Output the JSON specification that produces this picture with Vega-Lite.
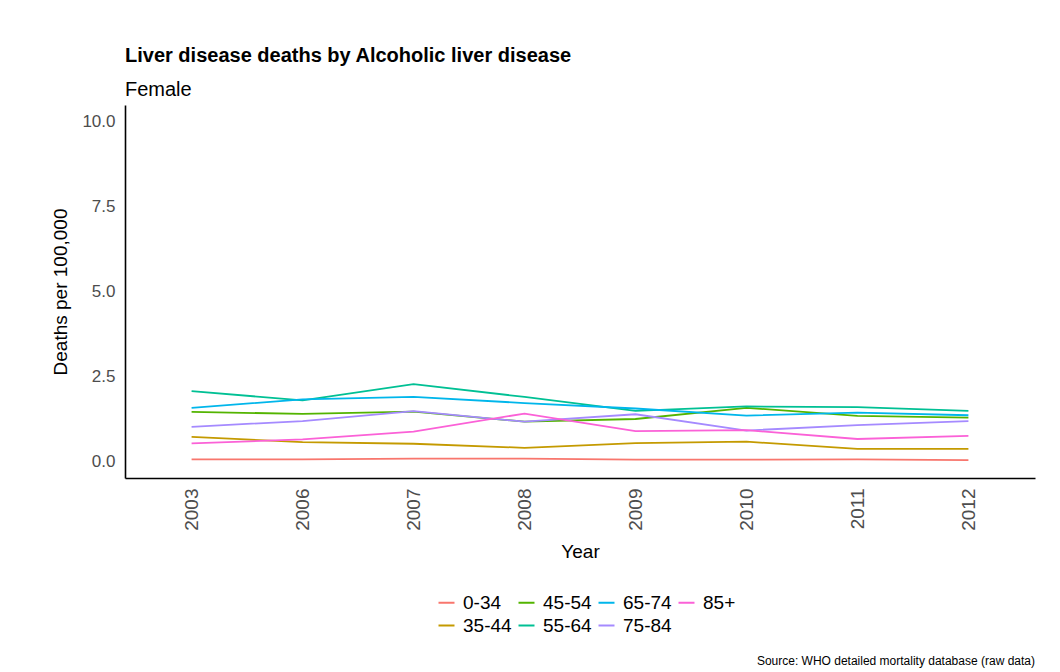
{
  "$schema": "https://vega.github.io/schema/vega-lite/v6.json",
  "autosize": {"type": "none"},
  "width": 910,
  "height": 373,
  "padding": {"left": 125, "top": 105, "right": 25, "bottom": 194},
  "background": "white",
  "config": {
    "font": "Liberation Sans",
    "view": {"stroke": null},
    "axis": {"grid": false, "ticks": false, "domainColor": "black", "domainWidth": 1.6, "labelColor": "#4D4D4D", "labelFontSize": 17, "titleFontSize": 19, "titleFontWeight": "normal", "titleColor": "black"}
  },
  "title": {
    "text": "Liver disease deaths by Alcoholic liver disease",
    "subtitle": "Female",
    "anchor": "start",
    "frame": "group",
    "fontSize": 20,
    "fontWeight": "bold",
    "color": "black",
    "subtitleFontSize": 20,
    "subtitleColor": "black",
    "subtitlePadding": 14,
    "offset": 5
  },
  "data": {
    "values": [
      {"year": "2003", "age": "0-34", "deaths": 0.05},
      {"year": "2006", "age": "0-34", "deaths": 0.05},
      {"year": "2007", "age": "0-34", "deaths": 0.07},
      {"year": "2008", "age": "0-34", "deaths": 0.07},
      {"year": "2009", "age": "0-34", "deaths": 0.04},
      {"year": "2010", "age": "0-34", "deaths": 0.04},
      {"year": "2011", "age": "0-34", "deaths": 0.05},
      {"year": "2012", "age": "0-34", "deaths": 0.03},
      {"year": "2003", "age": "35-44", "deaths": 0.71},
      {"year": "2006", "age": "35-44", "deaths": 0.56},
      {"year": "2007", "age": "35-44", "deaths": 0.51},
      {"year": "2008", "age": "35-44", "deaths": 0.39},
      {"year": "2009", "age": "35-44", "deaths": 0.53},
      {"year": "2010", "age": "35-44", "deaths": 0.57},
      {"year": "2011", "age": "35-44", "deaths": 0.36},
      {"year": "2012", "age": "35-44", "deaths": 0.36},
      {"year": "2003", "age": "45-54", "deaths": 1.45},
      {"year": "2006", "age": "45-54", "deaths": 1.39},
      {"year": "2007", "age": "45-54", "deaths": 1.46},
      {"year": "2008", "age": "45-54", "deaths": 1.16},
      {"year": "2009", "age": "45-54", "deaths": 1.24},
      {"year": "2010", "age": "45-54", "deaths": 1.57},
      {"year": "2011", "age": "45-54", "deaths": 1.33},
      {"year": "2012", "age": "45-54", "deaths": 1.28},
      {"year": "2003", "age": "55-64", "deaths": 2.06},
      {"year": "2006", "age": "55-64", "deaths": 1.79},
      {"year": "2007", "age": "55-64", "deaths": 2.27},
      {"year": "2008", "age": "55-64", "deaths": 1.89},
      {"year": "2009", "age": "55-64", "deaths": 1.48},
      {"year": "2010", "age": "55-64", "deaths": 1.61},
      {"year": "2011", "age": "55-64", "deaths": 1.59},
      {"year": "2012", "age": "55-64", "deaths": 1.48},
      {"year": "2003", "age": "65-74", "deaths": 1.57},
      {"year": "2006", "age": "65-74", "deaths": 1.82},
      {"year": "2007", "age": "65-74", "deaths": 1.89},
      {"year": "2008", "age": "65-74", "deaths": 1.71},
      {"year": "2009", "age": "65-74", "deaths": 1.55},
      {"year": "2010", "age": "65-74", "deaths": 1.34},
      {"year": "2011", "age": "65-74", "deaths": 1.43},
      {"year": "2012", "age": "65-74", "deaths": 1.35},
      {"year": "2003", "age": "75-84", "deaths": 1.01},
      {"year": "2006", "age": "75-84", "deaths": 1.18},
      {"year": "2007", "age": "75-84", "deaths": 1.47},
      {"year": "2008", "age": "75-84", "deaths": 1.16},
      {"year": "2009", "age": "75-84", "deaths": 1.38},
      {"year": "2010", "age": "75-84", "deaths": 0.90},
      {"year": "2011", "age": "75-84", "deaths": 1.06},
      {"year": "2012", "age": "75-84", "deaths": 1.18},
      {"year": "2003", "age": "85+", "deaths": 0.52},
      {"year": "2006", "age": "85+", "deaths": 0.64},
      {"year": "2007", "age": "85+", "deaths": 0.87},
      {"year": "2008", "age": "85+", "deaths": 1.40},
      {"year": "2009", "age": "85+", "deaths": 0.88},
      {"year": "2010", "age": "85+", "deaths": 0.91},
      {"year": "2011", "age": "85+", "deaths": 0.65},
      {"year": "2012", "age": "85+", "deaths": 0.74}
    ]
  },
  "layer": [
    {
      "mark": {"type": "line", "strokeWidth": 1.8},
      "encoding": {
        "x": {
          "field": "year", "type": "ordinal",
          "scale": {"type": "point", "padding": 0.6},
          "axis": {"title": "Year", "labelAngle": 270, "labelPadding": 10, "labelFontSize": 19, "titlePadding": 12}
        },
        "y": {
          "field": "deaths", "type": "quantitative",
          "scale": {"domain": [-0.5, 10.5], "nice": false, "zero": false},
          "axis": {"title": "Deaths per 100,000", "values": [0, 2.5, 5, 7.5, 10], "format": ".1f", "labelPadding": 10, "titlePadding": 11}
        },
        "color": {
          "field": "age", "type": "nominal",
          "scale": {
            "domain": ["0-34", "45-54", "65-74", "85+", "35-44", "55-64", "75-84"],
            "range": ["#F8766D", "#53B400", "#00B6EB", "#FB61D7", "#C49A00", "#00C094", "#A58AFF"]
          },
          "legend": {
            "title": null,
            "orient": "none",
            "legendX": 312,
            "legendY": 488,
            "direction": "horizontal",
            "columns": 4,
            "symbolType": "stroke",
            "symbolSize": 256,
            "symbolStrokeWidth": 2,
            "labelFontSize": 19,
            "labelColor": "black",
            "labelOffset": 7,
            "columnPadding": 2,
            "rowPadding": 3
          }
        }
      }
    },
    {
      "data": {"values": [{"caption": "Source: WHO detailed mortality database (raw data)"}]},
      "mark": {"type": "text", "align": "right", "baseline": "middle", "fontSize": 12, "color": "black", "x": {"expr": "width"}, "y": {"expr": "height + 183"}},
      "encoding": {"text": {"field": "caption", "type": "nominal"}}
    }
  ]
}
